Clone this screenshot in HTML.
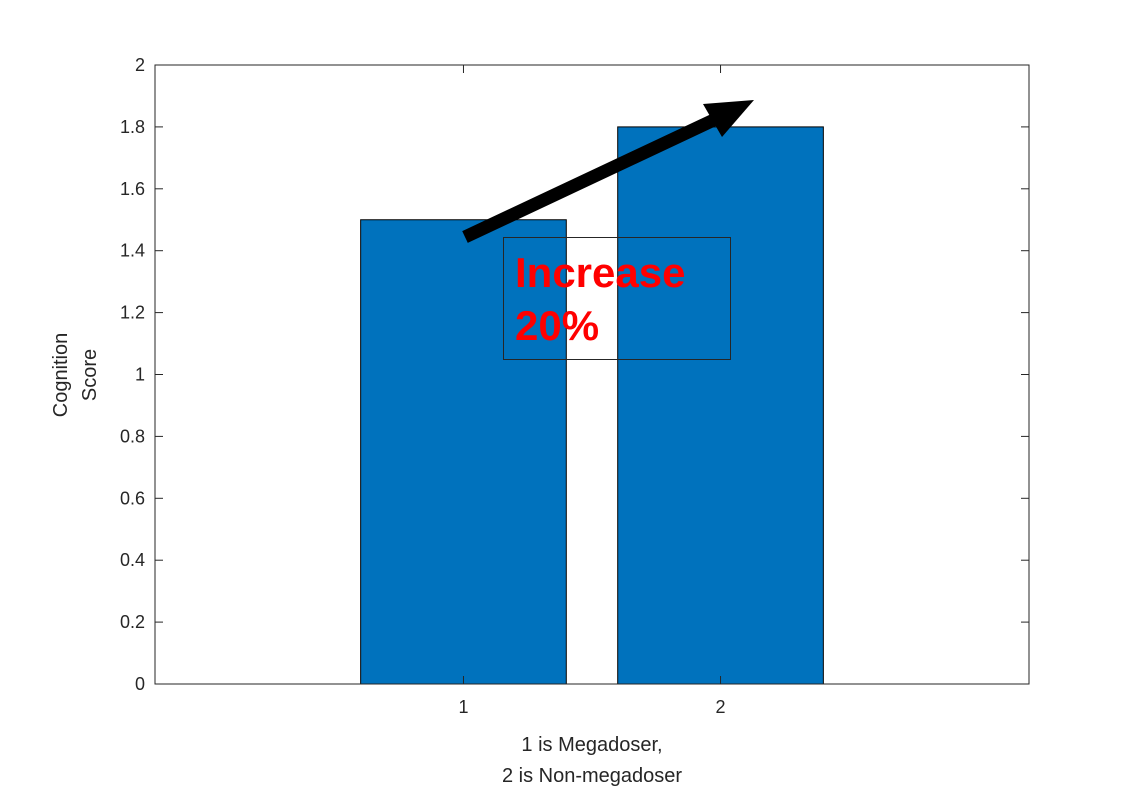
<!DOCTYPE html>
<html><head><meta charset="utf-8"><style>
html,body{margin:0;padding:0;background:#fff;}
svg text{font-family:"Liberation Sans",sans-serif;}
</style></head><body>
<svg width="1141" height="800" viewBox="0 0 1141 800">
<g id="plot"></g>
</svg>
<script>
const categories=[1,2];
const values=[1.5,1.8];
const yTicks=[0,0.2,0.4,0.6,0.8,1,1.2,1.4,1.6,1.8,2];
const yTickLabels=["0","0.2","0.4","0.6","0.8","1","1.2","1.4","1.6","1.8","2"];
const xTickLabels=["1","2"];
const NS="http://www.w3.org/2000/svg";
const L=155,R=1029,T=65,B=684;
const xMin=-0.2,xMax=3.2,yMin=0,yMax=2;
function sx(v){return L+(v-xMin)/(xMax-xMin)*(R-L);}
function sy(v){return B-(v-yMin)/(yMax-yMin)*(B-T);}
const g=document.getElementById('plot');
function mk(t,a){const e=document.createElementNS(NS,t);for(const k in a)e.setAttribute(k,a[k]);g.appendChild(e);return e;}
const bg=mk('rect',{x:L,y:T,width:R-L,height:B-T,fill:'#fff'});


categories.forEach((c,i)=>{
 const x0=sx(c-0.4),x1=sx(c+0.4);
 const r=mk('rect',{x:x0,y:sy(values[i]),width:x1-x0,height:sy(0)-sy(values[i]),fill:'#0072BD',stroke:'#000','stroke-width':1});
 
 
});
const ax=mk('rect',{x:L,y:T,width:R-L,height:B-T,fill:'none',stroke:'#262626','stroke-width':1});


yTicks.forEach((v,i)=>{
 const y=sy(v);
 mk('line',{x1:L,x2:L+8,y1:y,y2:y,stroke:'#262626'});
 mk('line',{x1:R,x2:R-8,y1:y,y2:y,stroke:'#262626'});
 const t=mk('text',{x:L-10,y:y+6,'text-anchor':'end','font-size':18,fill:'#262626'});
 t.textContent=yTickLabels[i];
 
 
});
categories.forEach((c,i)=>{
 const x=sx(c);
 mk('line',{x1:x,x2:x,y1:B,y2:B-8,stroke:'#262626'});
 mk('line',{x1:x,x2:x,y1:T,y2:T+8,stroke:'#262626'});
 const t=mk('text',{x:x,y:B+29,'text-anchor':'middle','font-size':18,fill:'#262626'});
 t.textContent=xTickLabels[i];
 
 
});
</script>
<svg width="1141" height="800" style="position:absolute;left:0;top:0">
<text x="592" y="751" text-anchor="middle" font-size="20" fill="#262626">1 is Megadoser,</text>
<text x="592" y="782" text-anchor="middle" font-size="20" fill="#262626">2 is Non-megadoser</text>
<g transform="translate(67,375) rotate(-90)">
<text x="0" y="0" text-anchor="middle" font-size="20" fill="#262626">Cognition</text>
<text x="0" y="29" text-anchor="middle" font-size="20" fill="#262626">Score</text>
</g>
<line x1="465" y1="237" x2="718" y2="118" stroke="#000" stroke-width="13"/>
<polygon points="754,100 703,104 722,137" fill="#000"/>
<rect x="503.5" y="237.5" width="227" height="122" fill="none" stroke="#262626" stroke-width="1"/>
<text x="515" y="287" font-size="42" font-weight="bold" fill="#ff0000">Increase</text>
<text x="515" y="340" font-size="42" font-weight="bold" fill="#ff0000">20%</text>
</svg>
</body></html>
